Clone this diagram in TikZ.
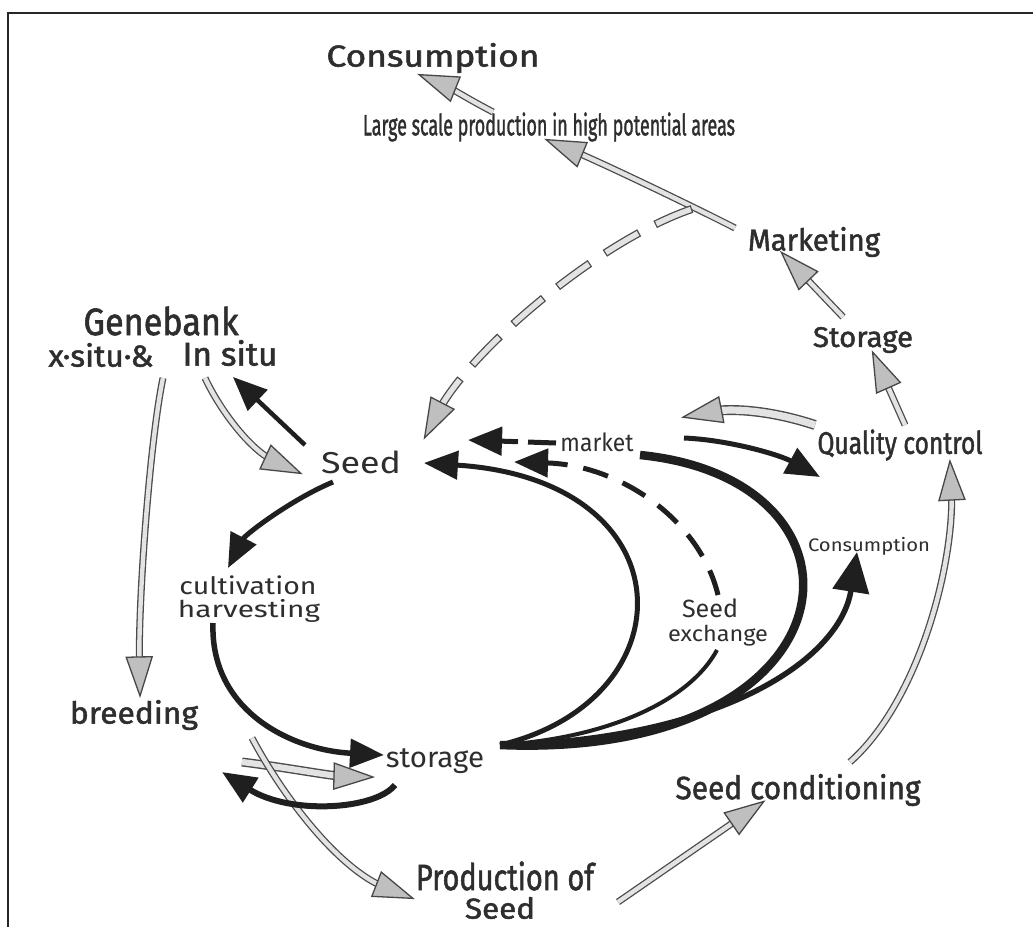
\documentclass[tikz,border=0pt]{standalone}
\usepackage{fontspec}
\setmainfont{Fira Sans}
\newfontfamily\hfont{Fira Sans}[FakeBold=1.6]
\usetikzlibrary{arrows.meta,decorations.markings}
\tikzset{
  lab/.style={inner sep=0pt, text=black!82},
  blk/.style={draw=black!88, line width=#1, -{Triangle[length=34pt,width=28pt]}},
  gout/.style={draw=black!70, shorten >=28pt},
  gin/.style={draw=gray!22, shorten >=28pt},
  ghead/.style={postaction={decorate}, decoration={markings,
     mark=at position 0.9999 with {\draw[fill=gray!50, draw=black!72, line width=1.3pt, line join=miter] (1,0) -- (-38,13) -- (-38,-13) -- cycle;}}}
}
\newcommand\garrow[3]{\draw[gout,line width=#1pt] #3; \draw[gin,line width=#2pt] #3; \path[ghead] #3;}
\newcommand\lb[3]{\resizebox*{#1pt}{#2pt}{#3}}
\begin{document}
\begin{tikzpicture}[x=1pt,y=-1pt]
\useasboundingbox (0,0) rectangle (1033,926);
\fill[white] (0,0) rectangle (1033,926);
\draw[line width=2.6pt, black!85] (1040,13) -- (8,13) -- (8,935);

% labels
\node[lab] (consTop) at (433,58) {\lb{213}{30}{\hfont Consumption}};
\node[lab] (large) at (549,127) {\lb{372}{29}{\hfont Large scale production in high potential areas}};
\node[lab] (marketing) at (814,242) {\lb{132}{30}{\hfont Marketing}};
\node[lab] (storageR) at (863,340) {\lb{100}{26}{\hfont Storage}};
\node[lab] (qc) at (900,445) {\lb{165}{31}{\hfont Quality control}};
\node[lab] (genebank) at (161,321) {\lb{155}{29}{\hfont Genebank}};
\node[lab] (exsitu) at (101,355) {\lb{105}{24}{\hfont x·situ·\&}};
\node[lab] (insitu) at (230,353) {\lb{95}{26}{\hfont In situ}};
\node[lab] (seed) at (361,462) {\lb{80}{23}{Seed}};
\node[lab] (market) at (597,442) {\lb{73}{19}{market}};
\node[lab] (cult) at (248,585) {\lb{137}{19}{cultivation}};
\node[lab] (harv) at (249,611) {\lb{142}{23}{harvesting}};
\node[lab] (breeding) at (134,715) {\lb{128}{30}{\hfont breeding}};
\node[lab] (storageC) at (435,761) {\lb{98}{25}{storage}};
\node[lab] (seedEx1) at (710,608) {\lb{56}{19}{Seed}};
\node[lab] (seedEx2) at (718,636) {\lb{100}{21}{exchange}};
\node[lab] (consSmall) at (869,546) {\lb{122}{18}{Consumption}};
\node[lab] (seedCond) at (798,790) {\lb{245}{32}{\hfont Seed conditioning}};
\node[lab] (prod1) at (505,876) {\lb{178}{29}{\hfont Production of}};
\node[lab] (prod2) at (500,908) {\lb{70}{22}{\hfont Seed}};

% connector end points
\coordinate (g1s) at (493,112); \coordinate (g1e) at (420,75);
\coordinate (g2s) at (735,228); \coordinate (g2e) at (547,140);
\coordinate (jn) at (692,209); \coordinate (g3e) at (425,437);
\coordinate (g4s) at (843,317); \coordinate (g4e) at (782,253);
\coordinate (g5s) at (905,425); \coordinate (g5e) at (873,353);
\coordinate (g6s) at (815,425); \coordinate (g6e) at (684,417);
\coordinate (gbs) at (163,378); \coordinate (gbe) at (140,695);
\coordinate (gis) at (205,378); \coordinate (gie) at (300,473);
\coordinate (g7s) at (242,762); \coordinate (g7e) at (372,777);
\coordinate (g8s) at (252,738); \coordinate (g8e) at (412,898);
\coordinate (g9s) at (618,902); \coordinate (g9e) at (763,802);
\coordinate (g10s) at (850,762); \coordinate (g10e) at (950,462);
\coordinate (bss) at (305,445); \coordinate (bse) at (233,377);
\coordinate (b1s) at (333,482); \coordinate (b1e) at (228,568);
\coordinate (b2s) at (213,623); \coordinate (b2e) at (384,755);
\coordinate (st) at (500,745);
\coordinate (b3e) at (424,463);
\coordinate (b4e) at (640,455);
\coordinate (bxm) at (717,650);
\coordinate (bxs) at (718,595); \coordinate (bxe) at (514,462);
\coordinate (bms) at (556,443); \coordinate (bme) at (468,440);
\coordinate (b6e) at (857,552);
\coordinate (bqs) at (684,438); \coordinate (bqe) at (820,477);
\coordinate (b7s) at (395,785); \coordinate (b7e) at (222,772);

% grey arrows
\garrow{7}{4.4}{(g1s) .. controls (470,100) and (445,85) .. (g1e)}
\garrow{7}{4.4}{(g2s) .. controls (690,205) and (600,162) .. (g2e)}
\draw[gout,line width=8pt,dash pattern=on 40pt off 18pt] (jn) .. controls (600,240) and (470,350) .. (g3e);
\draw[gin,line width=5.4pt,dash pattern=on 37.4pt off 20.6pt,dash phase=56.7pt] (jn) .. controls (600,240) and (470,350) .. (g3e);
\path[ghead] (jn) .. controls (600,240) and (470,350) .. (g3e);
\garrow{7}{4.4}{(g4s) -- (g4e)}
\garrow{7}{4.4}{(g5s) -- (g5e)}
\garrow{10}{7.2}{(g6s) .. controls (770,410) and (730,408) .. (g6e)}
\garrow{7}{4.4}{(gbs) .. controls (150,440) and (138,600) .. (gbe)}
\garrow{7}{4.4}{(gis) .. controls (220,410) and (250,450) .. (gie)}
\garrow{9}{6.2}{(g7s) .. controls (290,768) and (330,776) .. (g7e)}
\garrow{7}{4.4}{(g8s) .. controls (285,800) and (340,870) .. (g8e)}
\garrow{7}{4.4}{(g9s) -- (g9e)}
\garrow{7}{4.4}{(g10s) .. controls (920,700) and (955,560) .. (g10e)}

% black arrows
\draw[blk=4.5pt] (bss) -- (bse);
\draw[blk=5pt] (b1s) .. controls (290,500) and (245,535) .. (b1e);
\draw[blk=5.5pt] (b2s) .. controls (210,710) and (290,750) .. (b2e);
\draw[blk=5pt] (st) .. controls (690,700) and (690,480) .. (b3e);
\draw[draw=black!88, line width=8.5pt] (st) .. controls (860,760) and (890,480) .. (b4e);
\draw[draw=black!88, line width=4pt] (st) .. controls (610,738) and (690,700) .. (bxm);
\draw[blk=5pt, dash pattern=on 26pt off 16pt] (bxs) .. controls (700,520) and (620,465) .. (bxe);
\draw[blk=5pt, dash pattern=on 28pt off 10pt] (bms) -- (bme);
\draw[draw=black!88, line width=5.5pt, -{Triangle[length=40pt,width=36pt]}] (st) .. controls (720,740) and (840,660) .. (b6e);
\draw[blk=5pt] (bqs) .. controls (730,440) and (780,455) .. (bqe);
\draw[blk=6pt] (b7s) .. controls (375,810) and (290,815) .. (b7e);
\end{tikzpicture}
\end{document}
